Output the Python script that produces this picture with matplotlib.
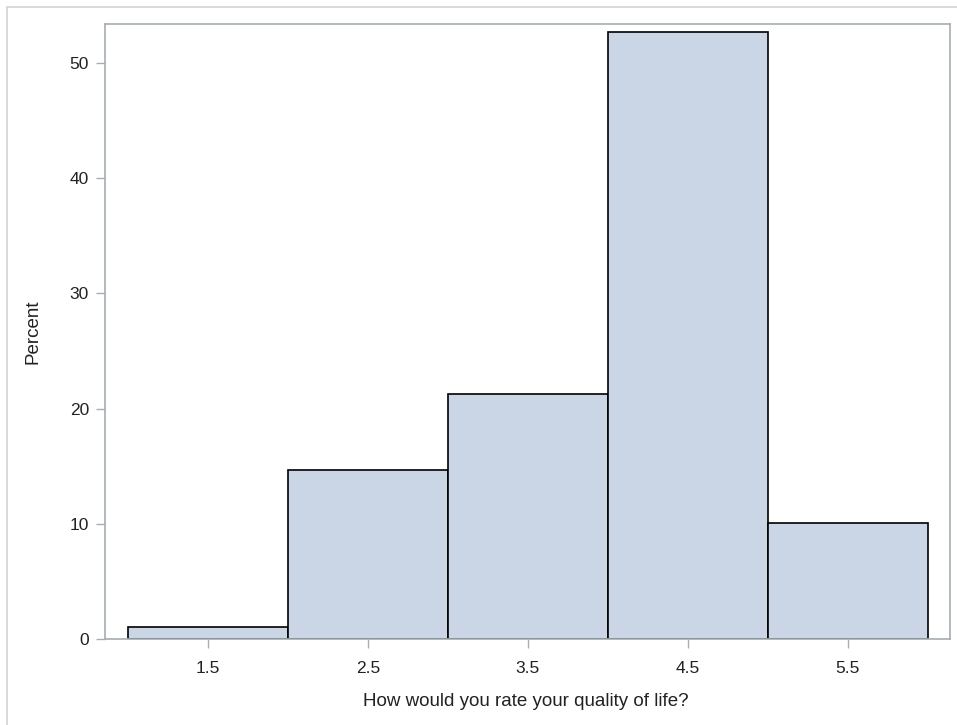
import matplotlib.pyplot as plt
from matplotlib.patches import Rectangle

# Histogram bins (midpoints) and percent per bin
midpoints = [1.5, 2.5, 3.5, 4.5, 5.5]
percents = [1.0, 14.7, 21.3, 52.7, 10.1]
bin_width = 1.0
y_ticks = [0, 10, 20, 30, 40, 50]

plt.rcParams['font.family'] = ['Liberation Sans', 'DejaVu Sans']

fig = plt.figure(figsize=(9.57, 7.25), dpi=100)
ax = fig.add_axes([105 / 957, 86 / 725, 845 / 957, 615 / 725])

ax.bar(midpoints, percents, width=bin_width, color='#CAD5E5',
       edgecolor='black', linewidth=1.2, zorder=2)

ax.set_xlim(0.856, 6.14)
ax.set_ylim(0, 53.4)
ax.set_xticks(midpoints)
ax.set_xticklabels([str(m) for m in midpoints])
ax.set_yticks(y_ticks)

frame_col = '#A6AEB3'
for s in ax.spines.values():
    s.set_color(frame_col)
    s.set_linewidth(1.2)
ax.tick_params(axis='both', direction='out', length=6.5, width=1,
               color=frame_col, labelsize=12.5, labelcolor='#222222')
ax.tick_params(axis='x', pad=9.5)
ax.tick_params(axis='y', pad=5)

ax.set_xlabel('How would you rate your quality of life?', fontsize=13.5,
              color='#222222', va='center')
ax.xaxis.set_label_coords(0.5 - 2 / 845, -62 / 615)
ax.set_ylabel('Percent', fontsize=13.5, color='#222222', va='center')
ax.yaxis.set_label_coords(-72 / 845, 0.5)

# light outer border of the graph area
fig.patches.append(Rectangle((7 / 957, -0.1), 1.2, (725 - 7) / 725 + 0.1,
                             transform=fig.transFigure, fill=False,
                             edgecolor='#D3D3D3', linewidth=1.2))

fig.savefig('out.png', dpi=100)
